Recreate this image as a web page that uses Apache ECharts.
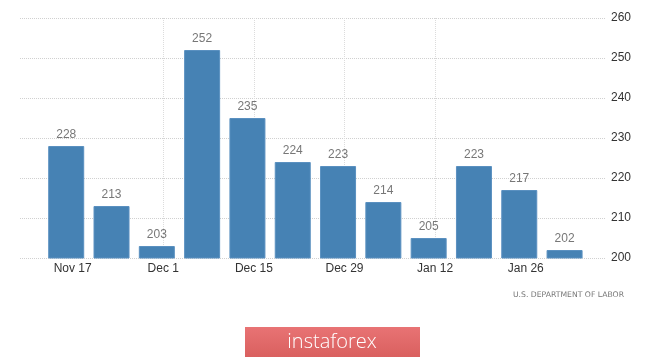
<!DOCTYPE html>
<html>
<head>
<meta charset="utf-8">
<script src="https://cdn.jsdelivr.net/npm/echarts@6/dist/echarts.min.js"></script>
<style>
html,body{margin:0;padding:0;background:#fff;}
#chart{width:665px;height:359px;}
</style>
</head>
<body>
<div id="chart"></div>
<script>
// Weekly initial jobless claims (thousands), week ending dates
var weeks = ['2019-11-16','2019-11-23','2019-11-30','2019-12-07','2019-12-14','2019-12-21','2019-12-28','2020-01-04','2020-01-11','2020-01-18','2020-01-25','2020-02-01'];
var values = [228, 213, 203, 252, 235, 224, 223, 214, 205, 223, 217, 202];
var tickDates = ['2019-11-17','2019-12-01','2019-12-15','2019-12-29','2020-01-12','2020-01-26'];
var tickLabels = ['Nov 17','Dec 1','Dec 15','Dec 29','Jan 12','Jan 26'];
var yTicks = [200, 210, 220, 230, 240, 250, 260];
var sourceText = 'U.S. DEPARTMENT OF LABOR';
var brandText = 'instaforex';

var DAY = 86400000;
function ts(s){ var p = s.split('-'); return Date.UTC(+p[0], +p[1]-1, +p[2]); }
var origin = ts(tickDates[0]);
function dayNum(s){ return Math.round((ts(s) - origin) / DAY); }
var tickDays = tickDates.map(dayNum);

var chart = echarts.init(document.getElementById('chart'));
var font = '"Liberation Sans Narrow", "Liberation Sans", Arial, sans-serif';
chart.setOption({
  animation: false,
  backgroundColor: '#ffffff',
  grid: { left: 20, right: 59, top: 18, bottom: 101, containLabel: false },
  xAxis: {
    type: 'value',
    min: -8.14,
    max: 82.4,
    axisLine: { show: false },
    axisTick: { show: false, customValues: tickDays },
    axisLabel: {
      customValues: tickDays,
      color: '#333',
      fontSize: 12,
      fontFamily: font,
      margin: 5,
      formatter: function (v) {
        var i = tickDays.indexOf(Math.round(v));
        return i >= 0 ? tickLabels[i] : '';
      }
    },
    splitLine: { show: true, showMinLine: false, showMaxLine: false, lineStyle: { color: '#dcdcdc', type: [1, 1], width: 1 } }
  },
  yAxis: {
    type: 'value',
    position: 'right',
    min: yTicks[0],
    max: yTicks[yTicks.length - 1],
    interval: 10,
    axisLine: { show: false },
    axisTick: { show: false },
    axisLabel: { color: '#333', fontSize: 12, fontFamily: font, margin: 5 },
    splitLine: { show: true, lineStyle: { color: '#d0d0d0', type: [1, 1], width: 1 } }
  },
  series: [{
    type: 'bar',
    barWidth: 36,
    data: weeks.map(function (w, i) { return [dayNum(w), values[i]]; }),
    itemStyle: { color: '#4682b4', borderColor: '#5a90c0', borderWidth: 1 },
    label: {
      show: true,
      position: 'top',
      distance: 5,
      color: '#777',
      fontSize: 12,
      fontFamily: font,
      formatter: function (p) { return p.value[1]; }
    }
  }],
  graphic: [
    {
      type: 'text',
      right: 41,
      top: 291,
      style: { text: sourceText, fill: '#777', font: '7.7px "DejaVu Sans", sans-serif' }
    },
    {
      type: 'rect',
      shape: { x: 245, y: 327, width: 175, height: 30 },
      style: {
        fill: new echarts.graphic.LinearGradient(0, 0, 0, 1, [
          { offset: 0, color: '#e87374' },
          { offset: 1, color: '#d9605f' }
        ])
      }
    },
    {
      type: 'text',
      x: 332,
      y: 342,
      style: {
        text: brandText,
        fill: '#ffffff',
        font: '300 20px "Open Sans", "Lato", sans-serif',
        align: 'center',
        verticalAlign: 'middle'
      }
    }
  ]
});
</script>
</body>
</html>
